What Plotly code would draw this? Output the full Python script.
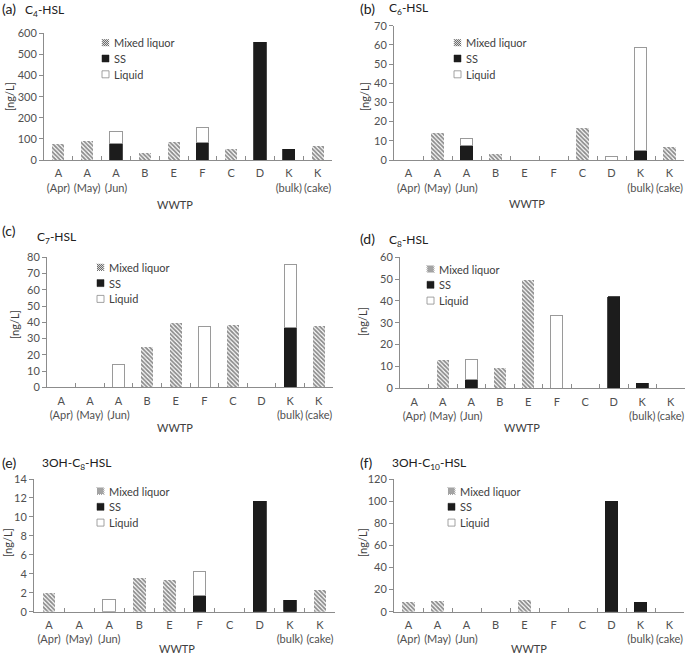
import plotly.graph_objects as go

# ---------------- data ----------------
categories = ["A (Apr)", "A (May)", "A (Jun)", "B", "E", "F", "C", "D", "K (bulk)", "K (cake)"]
tick_labels = ["A<br>(Apr)", "A<br>(May)", "A<br>(Jun)", "B", "E", "F", "C", "D", "K<br>(bulk)", "K<br>(cake)"]
series_names = ["Mixed liquor", "SS", "Liquid"]

c4_ml = [74, 90, None, 33, 85, None, 52, None, None, 68]
c4_ss = [None, None, 77, None, None, 84, None, 557, 52, None]
c4_liq = [None, None, 56, None, None, 68, None, None, None, None]

c6_ml = [None, 13.9, None, 3.1, None, None, 16.7, None, None, 6.8]
c6_ss = [None, None, 7.3, None, None, None, None, None, 4.9, None]
c6_liq = [None, None, 4.0, None, None, None, None, 1.9, 54.0, None]

c7_ml = [None, None, None, 24.8, 39.4, None, 38.4, None, None, 37.5]
c7_ss = [None, None, None, None, None, None, None, None, 36.5, None]
c7_liq = [None, None, 14.2, None, None, 37.5, None, None, 39.2, None]

c8_ml = [None, 12.8, None, 9.2, 49.5, None, None, None, None, None]
c8_ss = [None, None, 4.0, None, None, None, None, 42.0, 2.3, None]
c8_liq = [None, None, 9.3, None, None, 33.4, None, None, None, None]

oh8_ml = [1.97, None, None, 3.59, 3.31, None, None, None, None, 2.25]
oh8_ss = [None, None, None, None, None, 1.76, None, 11.64, 1.2, None]
oh8_liq = [None, None, 1.3, None, None, 2.53, None, None, None, None]

oh10_ml = [9.0, 9.6, None, None, 10.3, None, None, None, None, None]
oh10_ss = [None, None, None, None, None, None, None, 100, 8.7, None]
oh10_liq = [None, None, None, None, None, None, None, None, None, None]

panel_letters = ["(a)", "(b)", "(c)", "(d)", "(e)", "(f)"]
panel_names = ["C<sub>4</sub>-HSL", "C<sub>6</sub>-HSL", "C<sub>7</sub>-HSL",
               "C<sub>8</sub>-HSL", "3OH-C<sub>8</sub>-HSL", "3OH-C<sub>10</sub>-HSL"]
y_max = [600, 70, 80, 60, 14, 120]
y_step = [100, 10, 10, 10, 2, 20]
y_title = "[ng/L]"
x_title = "WWTP"

panels = [
    (c4_ml, c4_ss, c4_liq),
    (c6_ml, c6_ss, c6_liq),
    (c7_ml, c7_ss, c7_liq),
    (c8_ml, c8_ss, c8_liq),
    (oh8_ml, oh8_ss, oh8_liq),
    (oh10_ml, oh10_ss, oh10_liq),
]

# ---------------- layout geometry (pixels) ----------------
W, H = 685, 656
areas = [
    (44, 332, 33.3, 160),
    (394, 684, 25.7, 160),
    (47, 333, 257.3, 387.3),
    (400, 685, 257.3, 388.3),
    (34, 335, 479, 611.7),
    (394, 684, 479, 611.7),
]
letter_pos = [(0, 9), (358, 8), (0, 230), (358, 238), (0, 462), (358, 462)]
name_pos = [(23, 10), (387, 9), (35, 237), (387, 240), (40, 463), (390, 463)]
ytitle_pos = [(10, 97), (365, 97), (15, 325), (362, 322), (7, 543), (362, 543)]
xtitle_pos = [(175, 204), (527, 203), (175, 427), (522, 427), (177, 648), (529, 648)]
legend_pos = [(102, 42.7), (454, 42.7), (97, 267.3), (427, 269), (97, 491), (448, 491)]
legend_step = 15.8

FONT = "Lato"
TXT = "#404040"
AX = "#8c8c8c"


def px(x):
    return x / W


def py(y):
    return 1 - y / H


fig = go.Figure()

ml_style = dict(color="white",
                pattern=dict(shape="\\", fgcolor="#1a1a1a", bgcolor="white",
                             size=3, solidity=0.6, fillmode="overlay"),
                line=dict(width=0))
ss_style = dict(color="#1c1c1c", line=dict(color="#1c1c1c", width=0.8))
liq_style = dict(color="white", line=dict(color="#9a9a9a", width=1))
styles = [ml_style, ss_style, liq_style]

layout = dict(width=W, height=H, margin=dict(l=0, r=0, t=0, b=0),
              paper_bgcolor="white", plot_bgcolor="white",
              barmode="stack", bargap=0.58, showlegend=False,
              font=dict(family=FONT, size=11, color=TXT))

annotations = []
shapes = []

for i, (vals, area) in enumerate(zip(panels, areas)):
    k = "" if i == 0 else str(i + 1)
    xa, ya = "x" + k, "y" + k
    for name, v, st in zip(series_names, vals, styles):
        fig.add_trace(go.Bar(x=categories, y=v, name=name, marker=st,
                             xaxis=xa, yaxis=ya, hoverinfo="x+y+name"))
    x0, x1, yt, yb = area
    layout["xaxis" + k] = dict(domain=[px(x0), px(x1)], anchor=ya,
                               type="category", categoryorder="array", categoryarray=categories,
                               tickmode="array", tickvals=categories, ticktext=tick_labels,
                               tickson="boundaries", ticks="inside", ticklen=4, tickcolor=AX,
                               tickangle=0, ticklabelstandoff=3, automargin=False,
                               showline=True, linecolor=AX, linewidth=1,
                               showgrid=False, zeroline=False,
                               tickfont=dict(size=11, color="#505050"), fixedrange=True)
    layout["yaxis" + k] = dict(domain=[py(yb), py(yt)], anchor=xa,
                               range=[0, y_max[i]], dtick=y_step[i], tick0=0,
                               ticks="outside", ticklen=4, tickcolor=AX, automargin=False,
                               showline=True, linecolor=AX, linewidth=1,
                               showgrid=False, zeroline=False,
                               tickfont=dict(size=11, color="#505050"), fixedrange=True)

    lx, ly = letter_pos[i]
    annotations.append(dict(text=panel_letters[i], x=px(lx), y=py(ly), xref="paper", yref="paper",
                            xanchor="left", yanchor="middle", showarrow=False,
                            font=dict(size=14, color="#202020")))
    nx, ny = name_pos[i]
    annotations.append(dict(text=panel_names[i], x=px(nx), y=py(ny), xref="paper", yref="paper",
                            xanchor="left", yanchor="middle", showarrow=False,
                            font=dict(size=12, color="#202020")))
    tx, ty = ytitle_pos[i]
    annotations.append(dict(text=y_title, x=px(tx), y=py(ty), xref="paper", yref="paper",
                            xanchor="center", yanchor="middle", textangle=-90, showarrow=False,
                            font=dict(size=11, color=TXT)))
    wx, wy = xtitle_pos[i]
    annotations.append(dict(text=x_title, x=px(wx), y=py(wy), xref="paper", yref="paper",
                            xanchor="center", yanchor="middle", showarrow=False,
                            font=dict(size=11, color=TXT)))

    # manual legend
    mx, my = legend_pos[i]
    s = 7
    for j, name in enumerate(series_names):
        cy = my + j * legend_step
        sx0, sx1 = mx, mx + s
        sy0, sy1 = cy - s / 2, cy + s / 2
        if j == 0:
            shapes.append(dict(type="rect", xref="paper", yref="paper",
                               x0=px(sx0), x1=px(sx1), y0=py(sy1), y1=py(sy0),
                               fillcolor="white", line=dict(width=0)))
            segs = []
            c = -s + 1
            while c < s:
                xa0, ya0 = max(0, c), max(0, -c)
                xa1, ya1 = min(s, s + c), min(s, s - c)
                segs.append("M%.5f,%.5f L%.5f,%.5f" % (px(sx0 + xa0), py(sy0 + ya0),
                                                      px(sx0 + xa1), py(sy0 + ya1)))
                c += 2
            shapes.append(dict(type="path", xref="paper", yref="paper", path=" ".join(segs),
                               line=dict(color="#333333", width=0.9)))
        elif j == 1:
            shapes.append(dict(type="rect", xref="paper", yref="paper",
                               x0=px(sx0), x1=px(sx1), y0=py(sy1), y1=py(sy0),
                               fillcolor="#1c1c1c", line=dict(color="#1c1c1c", width=0.5)))
        else:
            shapes.append(dict(type="rect", xref="paper", yref="paper",
                               x0=px(sx0), x1=px(sx1), y0=py(sy1), y1=py(sy0),
                               fillcolor="white", line=dict(color="#8c8c8c", width=0.8)))
        annotations.append(dict(text=name, x=px(mx + s + 3), y=py(cy), xref="paper", yref="paper",
                                xanchor="left", yanchor="middle", showarrow=False,
                                font=dict(size=11, color=TXT)))

layout["annotations"] = annotations
layout["shapes"] = shapes
fig.update_layout(**layout)
fig.write_html("out.html", config={"displayModeBar": False},
               post_script="document.body.style.margin='0px';")
